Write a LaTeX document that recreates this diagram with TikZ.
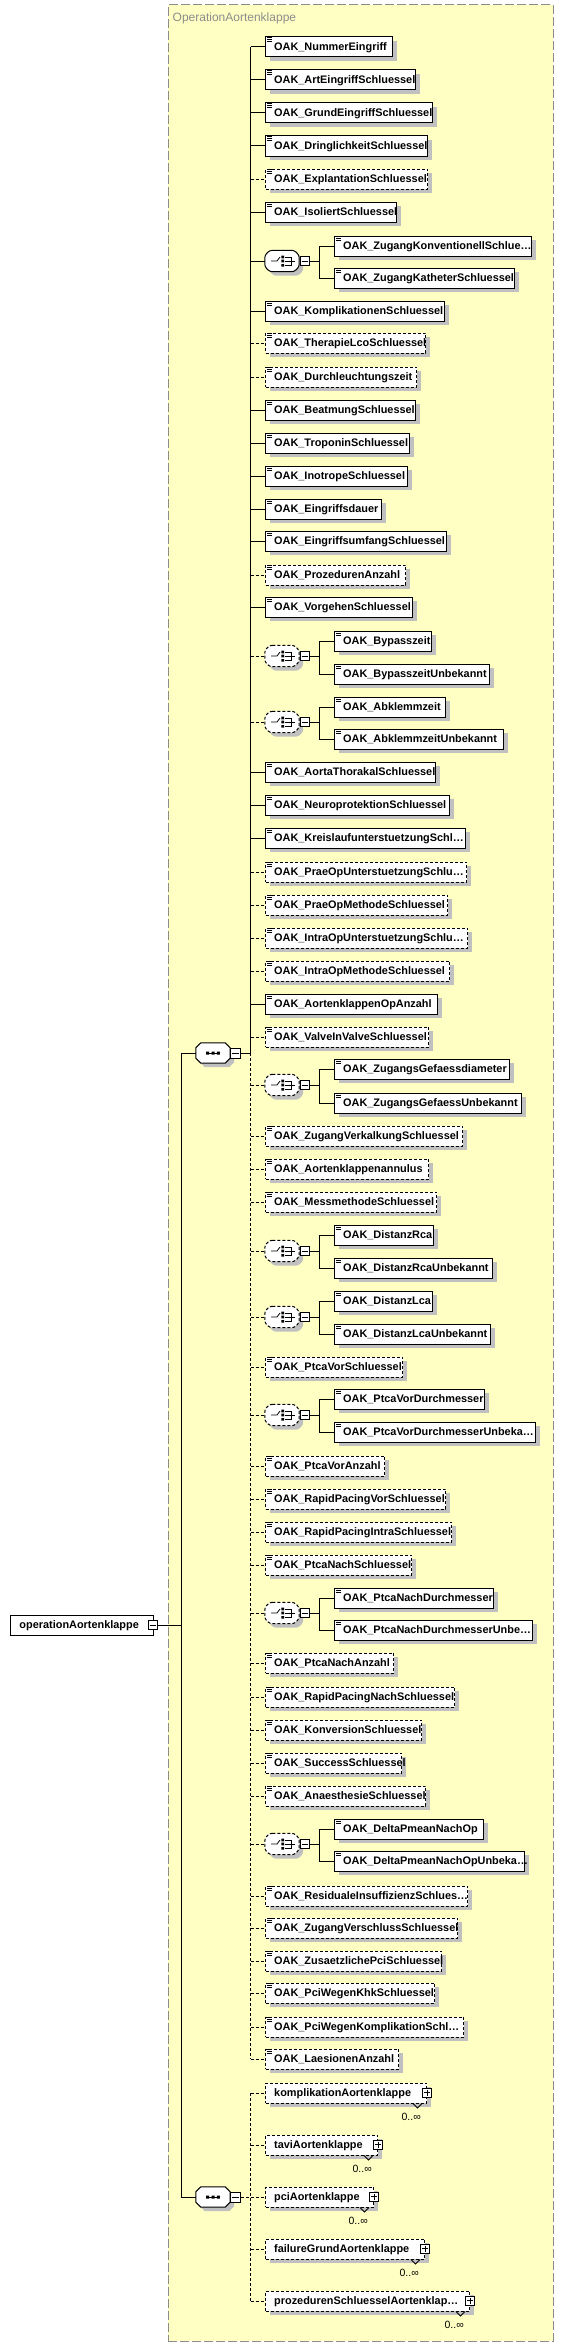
\documentclass[tikz,border=0pt]{standalone}
\usepackage{fontspec}
\setmainfont{Liberation Sans}
\usetikzlibrary{shadows}
\definecolor{bgy}{HTML}{FFFFC4}
\definecolor{bord}{HTML}{8C8C8C}
\definecolor{shd}{HTML}{C0C0C0}
\tikzset{
  conn/.style={line width=1pt},
  req/.style={solid},
  opt/.style={dash pattern=on 3pt off 2pt},
  shad/.style={general shadow={fill=shd, shadow xshift=4pt, shadow yshift=-4pt}},
  cbox/.style={draw, fill=white, line width=1pt, minimum height=20pt, inner sep=0pt, anchor=west},
  ebox/.style={cbox, shad},
  lbl/.style={anchor=base west, inner sep=0pt, font=\fontsize{10.9}{13}\selectfont\bfseries},
  mult/.style={anchor=base east, inner sep=0pt, font=\fontsize{10.5}{12}\selectfont},
  icon/.style={line width=0.6pt},
  pmbox/.style={draw, fill=white, line width=1pt, minimum size=9pt, inner sep=0pt},
  anchorbox/.style={minimum width=34pt, minimum height=21pt, inner sep=0pt},
  octo/.style={draw, fill=white, line width=1pt, shad},
}
\newcommand\elemx[7]{%
  \pgfmathsetmacro\bw{#4-#2}%
  \coordinate (#1s) at (#7,#3);
  \node[ebox,#6,minimum width=\bw pt] (#1) at (#2,#3) {};
  \node[lbl] (#1t) at ([xshift=9pt,yshift=-3.9pt]#1.west) {#5};
  \draw[icon] ([shift={(1.8pt,-1.2pt)}]#1.north west) -- ++(5.5,0)
              ([shift={(1.8pt,-2.9pt)}]#1.north west) -- ++(5.5,0)
              ([shift={(1.8pt,-4.6pt)}]#1.north west) -- ++(5.5,0);
  \draw[conn,#6] (#1s) -- (#1);
}
\newcommand\elem[5]{\elemx{#1}{265}{#2}{#3}{#4}{#5}{250.7}}
\newcommand\sub[4]{\elemx{#1}{334}{#2}{#3}{#4}{req}{319.3}}
\newcommand\octpath[1]{([xshift=5pt]#1.north west) -- ([xshift=-5pt]#1.north east) -- ([yshift=-5pt]#1.north east) -- ([yshift=5pt]#1.south east) -- ([xshift=-5pt]#1.south east) -- ([xshift=5pt]#1.south west) -- ([yshift=5pt]#1.south west) -- ([yshift=-5pt]#1.north west) -- cycle}
\newcommand\chgrp[5]{%
  \coordinate (#1s) at (250.7,#2);
  \node[anchorbox] (#1) at (282,#2) {};
  \draw[octo,#3,rounded corners=2.5pt] \octpath{#1};
  \draw[line width=0.8pt] ([xshift=-11pt]#1.center) -- ([xshift=-5pt]#1.center) -- ([xshift=-2pt,yshift=4pt]#1.center);
  \fill ([shift={(-0.6pt,5.3pt)}]#1.center) rectangle ([shift={(2pt,2.7pt)}]#1.center)
        ([shift={(-0.6pt,1.3pt)}]#1.center) rectangle ([shift={(2pt,-1.3pt)}]#1.center)
        ([shift={(-0.6pt,-3pt)}]#1.center) rectangle ([shift={(2pt,-5.6pt)}]#1.center);
  \draw[line width=0.8pt] ([shift={(2.5pt,4pt)}]#1.center) -- ([shift={(9.5pt,4pt)}]#1.center) -- ([shift={(9.5pt,-4.3pt)}]#1.center) -- ([shift={(2.5pt,-4.3pt)}]#1.center)
        ([shift={(2.5pt,0pt)}]#1.center) -- ([shift={(13pt,0pt)}]#1.center);
  \node[pmbox] (#1m) at (304.7,#2) {};
  \draw[line width=0.8pt] ([xshift=2pt]#1m.west) -- ([xshift=-2pt]#1m.east);
  \coordinate (#1j) at (319.3,#2);
  \coordinate (#1a) at (319.3,#4);
  \coordinate (#1b) at (319.3,#5);
  \draw[conn,#3] (#1s) -- (#1);
  \draw[conn] (#1m) -- (#1j);
  \draw[conn] (#1a) -- (#1b);
}
\newcommand\seqgrp[2]{%
  \node[anchorbox,minimum height=20pt] (#1) at (213,#2) {};
  \draw[octo] \octpath{#1};
  \draw[line width=0.8pt] ([xshift=-7pt]#1.center) -- ([xshift=7pt]#1.center);
  \fill ([shift={(-6.8pt,1.5pt)}]#1.center) rectangle ([shift={(-3.8pt,-1.5pt)}]#1.center)
        ([shift={(-1.5pt,1.5pt)}]#1.center) rectangle ([shift={(1.5pt,-1.5pt)}]#1.center)
        ([shift={(3.8pt,1.5pt)}]#1.center) rectangle ([shift={(6.8pt,-1.5pt)}]#1.center);
  \node[pmbox,minimum size=10pt] (#1m) at (235.7,#2) {};
  \draw[line width=0.8pt] ([xshift=2pt]#1m.west) -- ([xshift=-2pt]#1m.east);
}
\newcommand\cplx[4]{%
  \pgfmathsetmacro\bw{#3-3-265}%
  \coordinate (#1s) at (250.7,#2);
  \node[ebox,opt,minimum width=\bw pt] (#1) at (265,#2) {};
  \node[lbl] (#1t) at ([xshift=9pt,yshift=-3.9pt]#1.west) {#4};
  \node[pmbox] (#1p) at ([yshift=0.5pt]#1.east) {};
  \draw[line width=0.8pt] ([xshift=2pt]#1p.west) -- ([xshift=-2pt]#1p.east) ([yshift=-2pt]#1p.north) -- ([yshift=2pt]#1p.south);
  \node[mult] (#1n) at ([xshift=-6pt,yshift=-17pt]#1.south east) {0..∞};
  \draw[line width=0.8pt] ([xshift=-14pt]#1.south east) -- ([xshift=-9.5pt,yshift=-4.5pt]#1.south east) -- ([xshift=-5pt]#1.south east);
  \draw[conn,opt] (#1s) -- (#1);
}
\begin{document}
\begin{tikzpicture}[x=1pt,y=-1pt]
\useasboundingbox (0,0) rectangle (564,2347);
\fill[white] (0,0) rectangle (564,2347);
\node[draw=bord, fill=bgy, line width=1pt, dash pattern=on 9pt off 3pt, minimum width=385pt, minimum height=2336pt, inner sep=0pt] (cont) at (360.8,1173) {};
\node[anchor=base west, inner sep=0pt, text=bord, font=\fontsize{12}{14}\selectfont] (title) at (172.5,22) {OperationAortenklappe};

% main spine children
\elem{e1}{47}{392}{OAK\_NummerEingriff}{req}
\elem{e2}{80}{415}{OAK\_ArtEingriffSchluessel}{req}
\elem{e3}{113}{432}{OAK\_GrundEingriffSchluessel}{req}
\elem{e4}{146}{427}{OAK\_DringlichkeitSchluessel}{req}
\elem{e5}{179}{427}{OAK\_ExplantationSchluessel}{opt}
\elem{e6}{212}{396}{OAK\_IsoliertSchluessel}{req}
\chgrp{g7}{261}{req}{246}{278}
\sub{g7x}{246}{531}{OAK\_ZugangKonventionellSchlue…}
\sub{g7y}{278}{514}{OAK\_ZugangKatheterSchluessel}
\elem{e8}{311}{444}{OAK\_KomplikationenSchluessel}{req}
\elem{e9}{343}{425}{OAK\_TherapieLcoSchluessel}{opt}
\elem{e10}{377}{416}{OAK\_Durchleuchtungszeit}{opt}
\elem{e11}{410}{415}{OAK\_BeatmungSchluessel}{req}
\elem{e12}{443}{409}{OAK\_TroponinSchluessel}{req}
\elem{e13}{476}{407}{OAK\_InotropeSchluessel}{req}
\elem{e14}{509}{381}{OAK\_Eingriffsdauer}{req}
\elem{e15}{541}{446}{OAK\_EingriffsumfangSchluessel}{req}
\elem{e16}{575}{405}{OAK\_ProzedurenAnzahl}{opt}
\elem{e17}{607}{412}{OAK\_VorgehenSchluessel}{req}
\chgrp{g18}{656}{opt}{641}{674}
\sub{g18x}{641}{431}{OAK\_Bypasszeit}
\sub{g18y}{674}{489}{OAK\_BypasszeitUnbekannt}
\chgrp{g19}{722}{opt}{707}{739}
\sub{g19x}{707}{445}{OAK\_Abklemmzeit}
\sub{g19y}{739}{503}{OAK\_AbklemmzeitUnbekannt}
\elem{e20}{772}{435}{OAK\_AortaThorakalSchluessel}{req}
\elem{e21}{805}{449}{OAK\_NeuroprotektionSchluessel}{req}
\elem{e22}{838}{465}{OAK\_KreislaufunterstuetzungSchl…}{req}
\elem{e23}{872}{466}{OAK\_PraeOpUnterstuetzungSchlu…}{opt}
\elem{e24}{905}{447}{OAK\_PraeOpMethodeSchluessel}{opt}
\elem{e25}{938}{467}{OAK\_IntraOpUnterstuetzungSchlu…}{opt}
\elem{e26}{971}{449}{OAK\_IntraOpMethodeSchluessel}{opt}
\elem{e27}{1004}{437}{OAK\_AortenklappenOpAnzahl}{req}
\elem{e28}{1037}{428}{OAK\_ValveInValveSchluessel}{opt}
\chgrp{g29}{1085}{opt}{1069}{1103}
\sub{g29x}{1069}{509}{OAK\_ZugangsGefaessdiameter}
\sub{g29y}{1103}{521}{OAK\_ZugangsGefaessUnbekannt}
\elem{e30}{1136}{462}{OAK\_ZugangVerkalkungSchluessel}{opt}
\elem{e31}{1169}{428}{OAK\_Aortenklappenannulus}{opt}
\elem{e32}{1202}{436}{OAK\_MessmethodeSchluessel}{opt}
\chgrp{g33}{1251}{opt}{1235}{1268}
\sub{g33x}{1235}{433}{OAK\_DistanzRca}
\sub{g33y}{1268}{492}{OAK\_DistanzRcaUnbekannt}
\chgrp{g34}{1317}{opt}{1301}{1334}
\sub{g34x}{1301}{432}{OAK\_DistanzLca}
\sub{g34y}{1334}{490}{OAK\_DistanzLcaUnbekannt}
\elem{e35}{1367}{402}{OAK\_PtcaVorSchluessel}{opt}
\chgrp{g36}{1415}{opt}{1399}{1432}
\sub{g36x}{1399}{484}{OAK\_PtcaVorDurchmesser}
\sub{g36y}{1432}{535}{OAK\_PtcaVorDurchmesserUnbeka…}
\elem{e37}{1466}{384}{OAK\_PtcaVorAnzahl}{opt}
\elem{e38}{1499}{445}{OAK\_RapidPacingVorSchluessel}{opt}
\elem{e39}{1532}{451}{OAK\_RapidPacingIntraSchluessel}{opt}
\elem{e40}{1565}{411}{OAK\_PtcaNachSchluessel}{opt}
\chgrp{g41}{1613}{opt}{1598}{1630}
\sub{g41x}{1598}{493}{OAK\_PtcaNachDurchmesser}
\sub{g41y}{1630}{532}{OAK\_PtcaNachDurchmesserUnbe…}
\elem{e42}{1663}{393}{OAK\_PtcaNachAnzahl}{opt}
\elem{e43}{1697}{454}{OAK\_RapidPacingNachSchluessel}{opt}
\elem{e44}{1730}{421}{OAK\_KonversionSchluessel}{opt}
\elem{e45}{1763}{401}{OAK\_SuccessSchluessel}{opt}
\elem{e46}{1796}{425}{OAK\_AnaesthesieSchluessel}{opt}
\chgrp{g47}{1844}{opt}{1829}{1861}
\sub{g47x}{1829}{483}{OAK\_DeltaPmeanNachOp}
\sub{g47y}{1861}{524}{OAK\_DeltaPmeanNachOpUnbeka…}
\elem{e48}{1896}{467}{OAK\_ResidualeInsuffizienzSchlues…}{opt}
\elem{e49}{1928}{457}{OAK\_ZugangVerschlussSchluessel}{opt}
\elem{e50}{1961}{441}{OAK\_ZusaetzlichePciSchluessel}{opt}
\elem{e51}{1993}{434}{OAK\_PciWegenKhkSchluessel}{opt}
\elem{e52}{2027}{463}{OAK\_PciWegenKomplikationSchl…}{opt}
\elem{e53}{2059}{398}{OAK\_LaesionenAnzahl}{opt}

% second sequence children
\cplx{k1}{2093}{429}{komplikationAortenklappe}
\cplx{k2}{2145}{380}{taviAortenklappe}
\cplx{k3}{2197}{376}{pciAortenklappe}
\cplx{k4}{2249}{427}{failureGrundAortenklappe}
\cplx{k5}{2301}{472}{prozedurenSchluesselAortenklap…}

% sequences
\seqgrp{sq1}{1053}
\seqgrp{sq2}{2197}

% root
\node[cbox, minimum width=143pt] (root) at (10,1625) {};
\node[lbl] (roott) at ([xshift=9.3pt,yshift=-3.9pt]root.west) {operationAortenklappe};
\node[pmbox] (rootm) at (152.5,1625) {};
\draw[line width=0.8pt] ([xshift=2pt]rootm.west) -- ([xshift=-2pt]rootm.east);

% connectors
\coordinate (obr) at (181,1625);
\coordinate (ob1) at (181,1053);
\coordinate (ob2) at (181,2197);
\coordinate (sq1j) at (250.7,1053);
\coordinate (sq2j) at (250.7,2197);
\draw[conn] (rootm) -- (obr);
\draw[conn] (ob1) -- (ob2);
\draw[conn] (ob1) -- (sq1);
\draw[conn] (ob2) -- (sq2);
\draw[conn] (sq1m) -- (sq1j);
\draw[conn] (e1s) -- (sq1j);
\draw[conn,opt] (sq1j) -- (e53s);
\draw[conn,opt] (sq2m) -- (sq2j);
\draw[conn,opt] (k1s) -- (k5s);
\end{tikzpicture}
\end{document}
